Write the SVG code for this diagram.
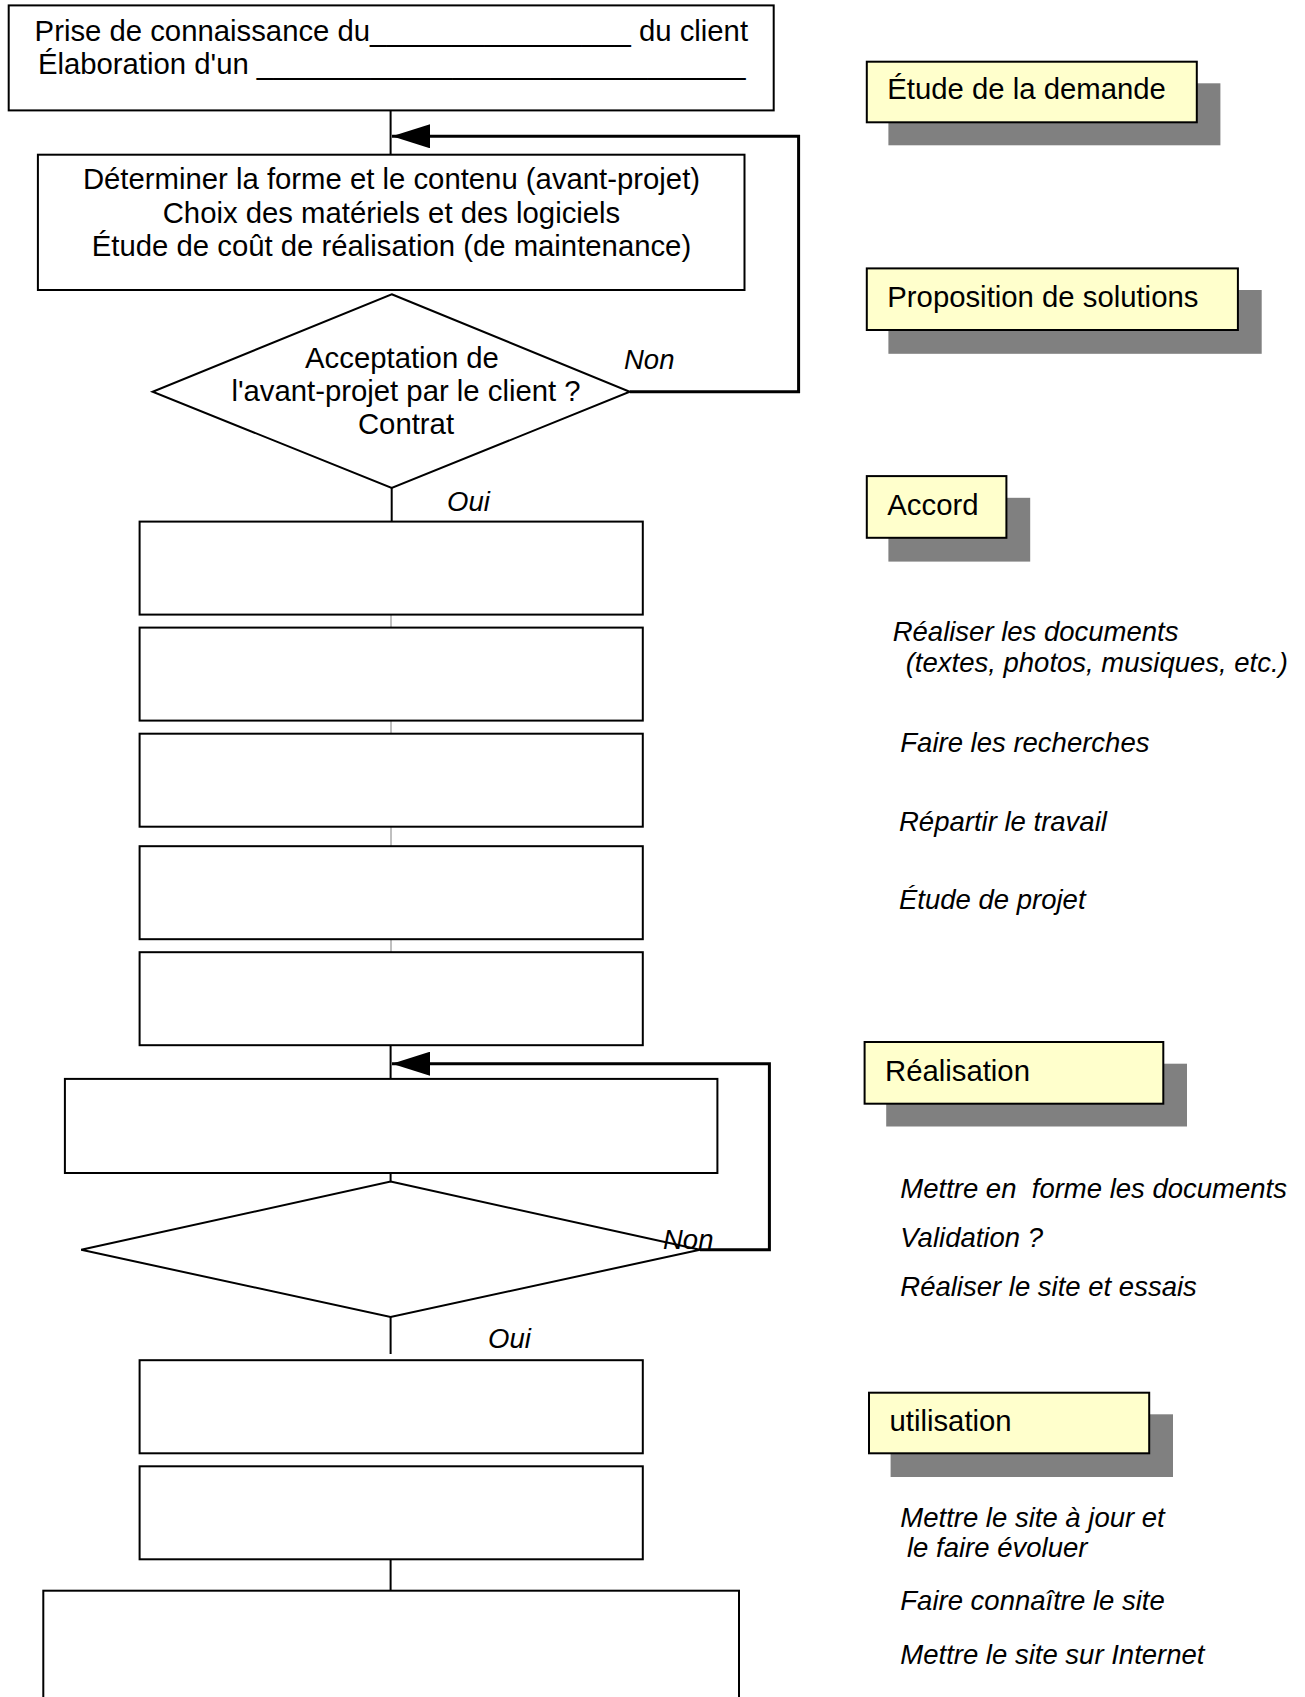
<svg xmlns="http://www.w3.org/2000/svg" width="1305" height="1697" viewBox="0 0 1305 1697">
<style>
.box{fill:#fff;stroke:#000;stroke-width:2}
.dia{fill:#fff;stroke:#000;stroke-width:2}
.t{font-family:"Liberation Sans",Arial,sans-serif;font-size:29.3px;fill:#000}
.c{text-anchor:middle}
.i{font-family:"Liberation Sans",Arial,sans-serif;font-size:27.5px;font-style:italic;fill:#000}
.lab{fill:#ffffcc;stroke:#000;stroke-width:2}
.sh{fill:#808080}
.ln{fill:none;stroke:#000;stroke-width:2}
.lp{fill:none;stroke:#000;stroke-width:3}
.thin{fill:none;stroke:#808080;stroke-width:1}
</style>
<defs>
<marker id="ah" markerUnits="userSpaceOnUse" markerWidth="38" markerHeight="24" viewBox="0 0 38 24" refX="38" refY="12" orient="auto">
<path d="M0,0 L38,12 L0,24 z" fill="#000"/>
</marker>
</defs>
<rect width="1305" height="1697" fill="#fff"/>

<g id="connectors">
<line class="ln" x1="390.6" y1="110.4" x2="390.6" y2="154.7"/>
<path class="lp" d="M629.8,391.7 H798.6 V136.3 H392" marker-end="url(#ah)"/>
<line class="ln" x1="391.7" y1="488" x2="391.7" y2="521.6"/>
<line class="thin" x1="391" y1="614.6" x2="391" y2="627.6"/>
<line class="thin" x1="391" y1="720.7" x2="391" y2="733.7"/>
<line class="thin" x1="391" y1="826.7" x2="391" y2="846.2"/>
<line class="thin" x1="391" y1="939.3" x2="391" y2="952.2"/>
<line class="ln" x1="390.6" y1="1045.3" x2="390.6" y2="1078.9"/>
<path class="lp" d="M700,1249.8 H769.4 V1063.7 H392" marker-end="url(#ah)"/>
<line class="ln" x1="390.6" y1="1173" x2="390.6" y2="1181.6"/>
<line class="ln" x1="390.6" y1="1316.9" x2="390.6" y2="1354"/>
<line class="ln" x1="390.6" y1="1559.3" x2="390.6" y2="1590.7"/>
</g>

<g id="n-prise">
<rect class="box" x="8.7" y="5.4" width="765" height="105"/>
<text class="t" x="34.6" y="40.8">Prise de connaissance du________________ du client</text>
<text class="t" x="37.9" y="74.3">Élaboration d'un ______________________________</text>
</g>

<g id="n-determiner">
<rect class="box" x="37.9" y="154.7" width="706.6" height="135.3"/>
<text class="t c" x="391.5" y="189">Déterminer la forme et le contenu (avant-projet)</text>
<text class="t c" x="391.5" y="222.6">Choix des matériels et des logiciels</text>
<text class="t c" x="391.5" y="256">Étude de coût de réalisation (de maintenance)</text>
</g>

<g id="n-acceptation">
<polygon class="dia" points="391.7,294.3 629.8,391.7 391.7,488 152.6,391.7"/>
<text class="t c" x="402" y="367.6">Acceptation de</text>
<text class="t c" x="406" y="401">l'avant-projet par le client ?</text>
<text class="t c" x="406" y="433.6">Contrat</text>
</g>
<text class="i" x="624" y="369">Non</text>
<text class="i" x="447" y="510.8">Oui</text>

<g id="n-a"><rect class="box" x="139.6" y="521.6" width="503.2" height="93"/></g>
<g id="n-b"><rect class="box" x="139.6" y="627.6" width="503.2" height="93"/></g>
<g id="n-c"><rect class="box" x="139.6" y="733.7" width="503.2" height="93"/></g>
<g id="n-d"><rect class="box" x="139.6" y="846.2" width="503.2" height="93"/></g>
<g id="n-e"><rect class="box" x="139.6" y="952.2" width="503.2" height="93"/></g>

<g id="n-f"><rect class="box" x="64.9" y="1078.9" width="652.5" height="94.1"/></g>
<g id="n-validation"><polygon class="dia" points="390.6,1181.6 700,1249.8 390.6,1316.9 81.2,1249.8"/></g>
<text class="i" x="663" y="1248.7">Non</text>
<text class="i" x="488" y="1348">Oui</text>

<g id="n-g"><rect class="box" x="139.6" y="1360.2" width="503.2" height="93.1"/></g>
<g id="n-h"><rect class="box" x="139.6" y="1466.3" width="503.2" height="93"/></g>
<g id="n-i"><rect class="box" x="43.3" y="1590.7" width="695.7" height="130"/></g>

<g id="l-etude">
<rect class="sh" x="888.4" y="83.3" width="332" height="62"/>
<rect class="lab" x="866.8" y="61.7" width="330" height="60.6"/>
<text class="t" x="887.3" y="99.2">Étude de la demande</text>
</g>
<g id="l-proposition">
<rect class="sh" x="888.4" y="290" width="373.3" height="63.8"/>
<rect class="lab" x="866.8" y="268.4" width="371.1" height="61.6"/>
<text class="t" x="887.3" y="307">Proposition de solutions</text>
</g>
<g id="l-accord">
<rect class="sh" x="888.4" y="497.8" width="141.8" height="63.8"/>
<rect class="lab" x="866.8" y="476.1" width="139.6" height="61.7"/>
<text class="t" x="887.3" y="514.8">Accord</text>
</g>
<g id="l-realisation">
<rect class="sh" x="886.2" y="1063.7" width="300.8" height="62.8"/>
<rect class="lab" x="864.6" y="1042" width="298.7" height="61.7"/>
<text class="t" x="885" y="1080.7">Réalisation</text>
</g>
<g id="l-utilisation">
<rect class="sh" x="890.6" y="1414.3" width="282.4" height="62.7"/>
<rect class="lab" x="869" y="1392.7" width="280.2" height="60.6"/>
<text class="t" x="889.5" y="1431.3">utilisation</text>
</g>

<g id="notes">
<text class="i" x="892.7" y="640.6">Réaliser les documents</text>
<text class="i" x="905.7" y="672">(textes, photos, musiques, etc.)</text>
<text class="i" x="900.3" y="752">Faire les recherches</text>
<text class="i" x="899" y="831">Répartir le travail</text>
<text class="i" x="899" y="909">Étude de projet</text>
<text class="i" x="900.3" y="1198" xml:space="preserve">Mettre en  forme les documents</text>
<text class="i" x="900.3" y="1246.6">Validation ?</text>
<text class="i" x="900.3" y="1296">Réaliser le site et essais</text>
<text class="i" x="900.3" y="1527">Mettre le site à jour et</text>
<text class="i" x="907" y="1557">le faire évoluer</text>
<text class="i" x="900.3" y="1610">Faire connaître le site</text>
<text class="i" x="900.3" y="1664">Mettre le site sur Internet</text>
</g>
</svg>
